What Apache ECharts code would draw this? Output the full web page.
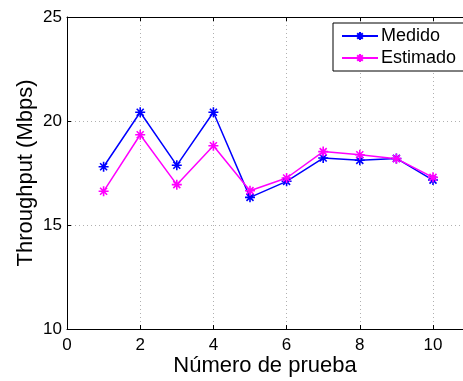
<!DOCTYPE html>
<html>
<head>
<meta charset="utf-8">
<script src="https://cdn.jsdelivr.net/npm/echarts@6/dist/echarts.min.js"></script>
<style>
  html, body { margin: 0; padding: 0; background: #fff; }
  #chart { width: 463px; height: 381px; }
</style>
</head>
<body>
<div id="chart"></div>
<script>
// Test runs and measured vs. estimated throughput (Mbps)
const pruebas = [1, 2, 3, 4, 5, 6, 7, 8, 9, 10];
const medido = [17.80, 20.42, 17.87, 20.42, 16.33, 17.10, 18.22, 18.11, 18.20, 17.16];
const estimado = [16.62, 19.34, 16.94, 18.81, 16.65, 17.26, 18.53, 18.38, 18.19, 17.29];
const seriesNames = ['Medido', 'Estimado'];
const seriesColors = ['#0000ff', '#ff00ff'];

// Asterisk marker: plus and cross strokes overlaid
const asterisk = 'path://M0,-1L0,1M-1,0L1,0M-0.7,-0.7L0.7,0.7M-0.7,0.7L0.7,-0.7';

const font = 'Liberation Sans, Arial, Helvetica, sans-serif';

function makeSeries(name, values, color) {
  return {
    name: name,
    type: 'line',
    data: pruebas.map((x, i) => [x, values[i]]),
    symbol: asterisk,
    symbolSize: 10,
    showAllSymbol: true,
    lineStyle: { color: color, width: 1.5 },
    itemStyle: { color: color, borderColor: color, borderWidth: 1.6 },
    emphasis: { disabled: true },
    z: 3
  };
}

const chart = echarts.init(document.getElementById('chart'), null, { renderer: 'canvas' });
chart.setOption({
  animation: false,
  backgroundColor: '#fff',
  textStyle: { fontFamily: font },
  grid: { left: 67, top: 17, right: 0, bottom: 52, outerBoundsMode: 'none', containLabel: false },
  legend: {
    data: seriesNames,
    orient: 'vertical',
    left: 333,
    top: 23,
    padding: [4, 8, 4, 8],
    itemGap: 4,
    itemWidth: 36,
    itemHeight: 10,
    backgroundColor: '#fff',
    borderColor: '#000',
    borderWidth: 1,
    borderRadius: 0,
    textStyle: { fontSize: 18, color: '#000', fontFamily: font, padding: [0, 0, 0, -2] }
  },
  xAxis: [{
    type: 'value',
    min: 0,
    max: 10.82,
    interval: 2,
    name: 'Número de prueba',
    nameLocation: 'middle',
    nameGap: 26,
    nameMoveOverlap: false,
    nameTextStyle: { fontSize: 22, color: '#000', fontFamily: font },
    axisLine: { show: true, onZero: false, lineStyle: { color: '#000', width: 1 } },
    axisTick: { show: true, inside: true, length: 4, lineStyle: { color: '#000' } },
    axisLabel: { fontSize: 17, color: '#000', margin: 8, showMaxLabel: false },
    splitLine: { show: true, lineStyle: { color: '#b0b0b0', type: [1, 3], width: 1 } }
  }, {
    type: 'value',
    position: 'top',
    min: 0,
    max: 10.82,
    interval: 2,
    axisLine: { show: true, onZero: false, lineStyle: { color: '#000' } },
    axisTick: { show: true, inside: true, length: 4, lineStyle: { color: '#000' } },
    axisLabel: { show: false },
    splitLine: { show: false }
  }],
  yAxis: {
    type: 'value',
    min: 10,
    max: 25,
    interval: 5,
    name: 'Throughput (Mbps)',
    nameLocation: 'middle',
    nameGap: 30,
    nameMoveOverlap: false,
    nameTextStyle: { fontSize: 22, color: '#000', fontFamily: font },
    axisLine: { show: true, onZero: false, lineStyle: { color: '#000', width: 1 } },
    axisTick: { show: true, inside: true, length: 4, lineStyle: { color: '#000' } },
    axisLabel: { fontSize: 17, color: '#000', margin: 5 },
    splitLine: { show: true, lineStyle: { color: '#b0b0b0', type: [1, 3], width: 1 } }
  },
  series: [
    makeSeries(seriesNames[0], medido, seriesColors[0]),
    makeSeries(seriesNames[1], estimado, seriesColors[1])
  ]
});
</script>
</body>
</html>
